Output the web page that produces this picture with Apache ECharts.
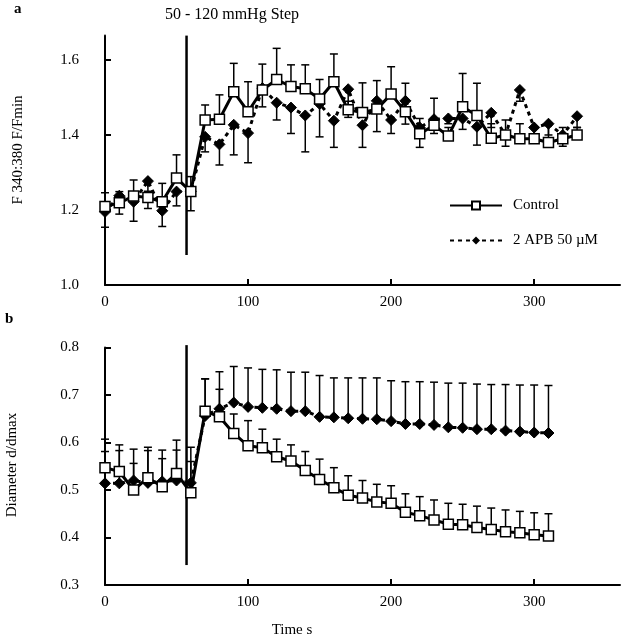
<!DOCTYPE html>
<html><head><meta charset="utf-8">
<script src="https://cdn.jsdelivr.net/npm/echarts@6/dist/echarts.min.js"></script>
<style>html,body{margin:0;padding:0;background:#fff}#c{width:623px;height:640px}</style>
</head><body><div id="c"></div>
<script>
const topTimes = [0,10,20,30,40,50,60,70,80,90,100,110,120,130,140,150,160,170,180,190,200,210,220,230,240,250,260,270,280,290,300,310,320,330];
const topControl = [1.209,1.219,1.237,1.233,1.222,1.285,1.249,1.44,1.442,1.515,1.462,1.52,1.548,1.529,1.523,1.496,1.542,1.467,1.46,1.469,1.509,1.462,1.403,1.426,1.397,1.475,1.452,1.391,1.40,1.39,1.39,1.38,1.39,1.40];
const topControlUpper = [1.246,1.249,1.28,1.25,1.271,1.347,1.289,1.48,1.507,1.591,1.542,1.589,1.631,1.587,1.587,1.548,1.616,1.49,1.539,1.545,1.582,1.538,1.444,1.498,1.42,1.564,1.538,1.43,1.44,1.43,1.42,1.43,1.42,1.42];
const topAPB = [1.195,1.238,1.222,1.277,1.198,1.249,1.25,1.395,1.375,1.427,1.405,1.525,1.486,1.473,1.452,1.483,1.438,1.522,1.426,1.491,1.44,1.491,1.42,1.442,1.444,1.444,1.422,1.459,1.40,1.52,1.42,1.43,1.40,1.45];
const topAPBLower = [1.154,1.189,1.17,1.204,1.156,1.211,1.198,1.355,1.32,1.347,1.326,1.475,1.44,1.404,1.355,1.395,1.367,1.447,1.367,1.409,1.404,1.429,1.367,1.404,1.43,1.415,1.373,1.42,1.37,1.49,1.39,1.40,1.37,1.42];

const botTimes = [0,10,20,30,40,50,60,70,80,90,100,110,120,130,140,150,160,170,180,190,200,210,220,230,240,250,260,270,280,290,300,310];
const botControl = [0.547,0.539,0.50,0.526,0.507,0.535,0.494,0.666,0.654,0.619,0.593,0.589,0.57,0.561,0.541,0.522,0.505,0.489,0.483,0.475,0.472,0.453,0.446,0.437,0.428,0.427,0.421,0.417,0.412,0.41,0.406,0.403];
const botControlUpper = [0.607,0.595,0.556,0.59,0.566,0.605,0.56,0.734,0.712,0.66,0.646,0.628,0.607,0.595,0.581,0.565,0.547,0.53,0.52,0.512,0.509,0.492,0.486,0.479,0.472,0.47,0.466,0.462,0.458,0.455,0.452,0.45];
const botAPB = [0.514,0.514,0.52,0.515,0.518,0.52,0.515,0.656,0.671,0.684,0.675,0.673,0.671,0.666,0.666,0.654,0.653,0.651,0.65,0.649,0.645,0.639,0.639,0.637,0.632,0.631,0.628,0.628,0.625,0.623,0.621,0.62];
const botAPBUpper = [0.581,0.583,0.586,0.583,0.584,0.584,0.59,0.734,0.749,0.76,0.757,0.754,0.753,0.748,0.748,0.741,0.736,0.736,0.736,0.736,0.73,0.728,0.728,0.727,0.725,0.725,0.723,0.722,0.722,0.721,0.721,0.72];

const stepTime = 57;
const topStepRange = [1.08, 1.665];
const botStepRange = [0.342, 0.805];

const topTicks = [1.0, 1.2, 1.4, 1.6];
const botTicks = [0.3, 0.4, 0.5, 0.6, 0.7, 0.8];
const xTicks = [0, 100, 200, 300];

const seriesNames = ['Control', '2 APB 50 \u00b5M'];
const FONT = 'Liberation Serif';

function zip3(t, v, c) { return t.map((x, i) => [x, v[i], c[i]]); }
function zip2(t, v) { return t.map((x, i) => [x, v[i]]); }

function errRender(params, api) {
  const x = api.value(0);
  const p0 = api.coord([x, api.value(1)]);
  const p1 = api.coord([x, api.value(2)]);
  const w = 4;
  const st = { stroke: '#000', lineWidth: 1.5 };
  return { type: 'group', children: [
    { type: 'line', shape: { x1: p0[0], y1: p0[1], x2: p1[0], y2: p1[1] }, style: st },
    { type: 'line', shape: { x1: p1[0] - w, y1: p1[1], x2: p1[0] + w, y2: p1[1] }, style: st }
  ]};
}
function stepRender(params, api) {
  const x = api.value(0);
  const p0 = api.coord([x, api.value(1)]);
  const p1 = api.coord([x, api.value(2)]);
  return { type: 'line', shape: { x1: p0[0], y1: p0[1], x2: p1[0], y2: p1[1] }, style: { stroke: '#000', lineWidth: 2.5 } };
}

const axisLine = { show: true, lineStyle: { color: '#000', width: 2 } };
const axisTick = { show: true, inside: true, length: 6, lineStyle: { color: '#000', width: 2 } };
const lblStyle = { color: '#000', fontFamily: FONT, fontSize: 15 };

function xAxis(gi) {
  return { type: 'value', gridIndex: gi, min: 0, max: 360, interval: 100,
    axisLine, axisTick: Object.assign({ customValues: xTicks }, axisTick),
    axisLabel: Object.assign({ customValues: xTicks, margin: 10 }, lblStyle),
    splitLine: { show: false } };
}
function yAxis(gi, min, max, ticks) {
  return { type: 'value', gridIndex: gi, min, max, offset: 17,
    axisLine, axisTick: Object.assign({ customValues: ticks }, axisTick),
    axisLabel: Object.assign({ customValues: ticks, margin: 9, formatter: v => v.toFixed(1) }, lblStyle),
    splitLine: { show: false } };
}

const lineCtrl = { color: '#000', width: 3, type: 'solid' };
const lineAPB = { color: '#000', width: 3, type: [4, 4] };

const option = {
  animation: false,
  backgroundColor: '#fff',
  grid: [
    { left: 105, top: 35.6, width: 515, height: 249.4 },
    { left: 105, top: 347.5, width: 515, height: 237.5 }
  ],
  xAxis: [xAxis(0), xAxis(1)],
  yAxis: [yAxis(0, 1.0, 1.665, topTicks), yAxis(1, 0.3, 0.8, botTicks)],
  legend: {
    orient: 'vertical', left: 444, top: 193, itemGap: 20, itemWidth: 52, itemHeight: 10,
    data: seriesNames,
    textStyle: { color: '#000', fontFamily: FONT, fontSize: 15, padding: [0, 0, 0, 6] }
  },
  graphic: [
    { type: 'text', left: 14, top: 2, style: { text: 'a', font: 'bold 15px ' + FONT, fill: '#000' } },
    { type: 'text', left: 5, top: 312, style: { text: 'b', font: 'bold 15px ' + FONT, fill: '#000' } },
    { type: 'text', x: 232, y: 15, style: { text: '50 - 120 mmHg Step', font: '16px ' + FONT, fill: '#000', align: 'center', verticalAlign: 'middle' } },
    { type: 'text', x: 18, y: 150, rotation: Math.PI / 2, style: { text: 'F 340:380 F/Fmin', font: '15px ' + FONT, fill: '#000', align: 'center', verticalAlign: 'middle' } },
    { type: 'text', x: 12, y: 465, rotation: Math.PI / 2, style: { text: 'Diameter d/dmax', font: '15px ' + FONT, fill: '#000', align: 'center', verticalAlign: 'middle' } },
    { type: 'text', x: 292, y: 630, style: { text: 'Time s', font: '15px ' + FONT, fill: '#000', align: 'center', verticalAlign: 'middle' } }
  ],
  series: [
    { type: 'custom', xAxisIndex: 0, yAxisIndex: 0, renderItem: stepRender, data: [[stepTime, topStepRange[0], topStepRange[1]]], clip: false, z: 1 },
    { type: 'custom', xAxisIndex: 1, yAxisIndex: 1, renderItem: stepRender, data: [[stepTime, botStepRange[0], botStepRange[1]]], clip: false, z: 1 },
    { type: 'custom', xAxisIndex: 0, yAxisIndex: 0, renderItem: errRender, data: zip3(topTimes, topControl, topControlUpper), z: 2 },
    { type: 'custom', xAxisIndex: 0, yAxisIndex: 0, renderItem: errRender, data: zip3(topTimes, topAPB, topAPBLower), z: 2 },
    { type: 'custom', xAxisIndex: 1, yAxisIndex: 1, renderItem: errRender, data: zip3(botTimes, botControl, botControlUpper), z: 2 },
    { type: 'custom', xAxisIndex: 1, yAxisIndex: 1, renderItem: errRender, data: zip3(botTimes, botAPB, botAPBUpper), z: 2 },
    { name: seriesNames[1], type: 'line', xAxisIndex: 0, yAxisIndex: 0, data: zip2(topTimes, topAPB), symbol: 'diamond', symbolSize: 11,
      itemStyle: { color: '#000', borderColor: '#000' }, lineStyle: lineAPB, z: 3 },
    { name: seriesNames[0], type: 'line', xAxisIndex: 0, yAxisIndex: 0, data: zip2(topTimes, topControl), symbol: 'rect', symbolSize: 10,
      itemStyle: { color: '#fff', borderColor: '#000', borderWidth: 1.5 }, lineStyle: lineCtrl, z: 4 },
    { name: seriesNames[1], type: 'line', xAxisIndex: 1, yAxisIndex: 1, data: zip2(botTimes, botAPB), symbol: 'diamond', symbolSize: 11,
      itemStyle: { color: '#000', borderColor: '#000' }, lineStyle: lineAPB, z: 3 },
    { name: seriesNames[0], type: 'line', xAxisIndex: 1, yAxisIndex: 1, data: zip2(botTimes, botControl), symbol: 'rect', symbolSize: 10,
      itemStyle: { color: '#fff', borderColor: '#000', borderWidth: 1.5 }, lineStyle: lineCtrl, z: 4 }
  ]
};
const chart = echarts.init(document.getElementById('c'), null, { renderer: 'canvas' });
chart.setOption(option);
</script></body></html>
